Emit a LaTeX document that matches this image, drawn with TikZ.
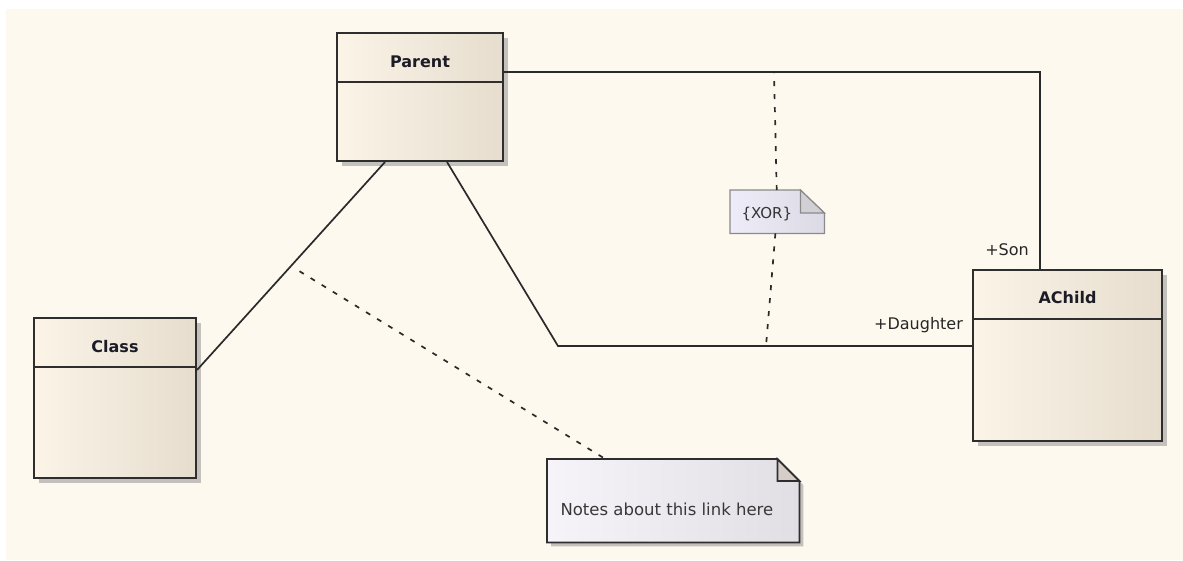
\documentclass[tikz,border=0pt]{standalone}
\usepackage{fontspec}
\setmainfont{DejaVu Sans}
\usepackage{xcolor}
\usetikzlibrary{calc,shadows}

\definecolor{bgcream}{HTML}{FEF9EF}
\definecolor{boxleft}{HTML}{FBF4E7}
\definecolor{boxright}{HTML}{E6DDCE}
\definecolor{boxline}{HTML}{2E2E2E}
\definecolor{shadowgray}{HTML}{C4C1BC}
\definecolor{linecol}{HTML}{2A2A2A}
\definecolor{noteleft}{HTML}{F6F4F9}
\definecolor{noteright}{HTML}{E1DEE4}
\definecolor{notefold}{HTML}{D6CDC8}
\definecolor{xorleft}{HTML}{EDECF8}
\definecolor{xorright}{HTML}{DCDAE4}
\definecolor{xorline}{HTML}{8A8A8A}
\definecolor{xorfold}{HTML}{D2D0D5}
\definecolor{titletext}{HTML}{1C1C26}

\begin{document}
\begin{tikzpicture}[x=1pt, y=-1pt, font=\fontsize{16}{19}\selectfont,
  classbox/.style={draw=boxline, line width=2pt, left color=boxleft, right color=boxright,
    anchor=north west, inner sep=0pt,
    drop shadow={shadow xshift=5pt, shadow yshift=-5pt, fill=shadowgray, opacity=1}},
  sep/.style={draw=boxline, line width=2pt},
  title/.style={anchor=base, font=\fontsize{16}{19}\selectfont\bfseries, text=titletext},
  note/.style={anchor=north west, inner sep=0pt},
  assoc/.style={draw=linecol, line width=1.7pt},
  notelink/.style={draw=linecol, line width=1.7pt, dash pattern=on 5pt off 8pt},
  role/.style={anchor=base east, font=\fontsize{16}{19}\selectfont, text=black!85}]

\useasboundingbox (0,0) rectangle (1183,560);
\path[fill=bgcream] (6,9) rectangle (1183,560);

% classes
\node (parent) [classbox, minimum width=166pt, minimum height=128pt] at (336,32) {};
\node (parentname) [title] at ($(parent.north)+(0,35)$) {Parent};
\draw[sep] ($(parent.north west)+(0,50)$) -- ($(parent.north east)+(0,50)$);

\node (cls) [classbox, minimum width=162pt, minimum height=160pt] at (33,317) {};
\node (clsname) [title] at ($(cls.north)+(0,35)$) {Class};
\draw[sep] ($(cls.north west)+(0,50)$) -- ($(cls.north east)+(0,50)$);

\node (achild) [classbox, minimum width=189pt, minimum height=171pt] at (972,269) {};
\node (achildname) [title] at ($(achild.north)+(0,34)$) {AChild};
\draw[sep] ($(achild.north west)+(0,50)$) -- ($(achild.north east)+(0,50)$);

% notes
\node (xor) [note, minimum width=94pt, minimum height=43pt] at (730,190) {};
\path[draw=xorline, line width=1.2pt, left color=xorleft, right color=xorright]
  (xor.north west) -- ($(xor.north east)+(-24,0)$) -- ($(xor.north east)+(0,23)$)
  -- (xor.south east) -- (xor.south west) -- cycle;
\filldraw[draw=xorline, fill=xorfold, line width=1.2pt]
  ($(xor.north east)+(-24,0)$) -- ++(0,23) -- ++(24,0) -- cycle;
\node (xortext) [anchor=base west, font=\fontsize{15}{18}\selectfont, text=black!80]
  at ($(xor.north west)+(8,28)$) {\{XOR\}};

\node (notes) [note, minimum width=252pt, minimum height=83pt] at (547,459) {};
\path[draw=boxline, line width=1.8pt, left color=noteleft, right color=noteright,
  drop shadow={shadow xshift=4pt, shadow yshift=-4pt, fill=shadowgray, opacity=1}]
  (notes.north west) -- ($(notes.north east)+(-22,0)$) -- ($(notes.north east)+(0,22)$)
  -- (notes.south east) -- (notes.south west) -- cycle;
\filldraw[draw=boxline, fill=notefold, line width=1.8pt]
  ($(notes.north east)+(-22,0)$) -- ++(0,22) -- ++(22,0) -- cycle;
\node (notestext) [anchor=base west, font=\fontsize{16.5}{19}\selectfont, text=black!78]
  at ($(notes.north west)+(10,56)$) {Notes about this link here};

% associations
\coordinate (dbend) at (558,346);
\draw[assoc] ($(parent.south west)+(49,0)$) -- coordinate[pos=0.5] (pcmid) ($(cls.north east)+(0,53)$);
\draw[assoc] ($(parent.south west)+(111,0)$) -- (dbend) -- ($(achild.north west)+(0,77)$)
  node[role, xshift=-5pt, yshift=17pt] {+Daughter};
\draw[assoc] ($(parent.north east)+(0,40)$) -| ($(achild.north west)+(68,0)$)
  node[role, xshift=-7pt, yshift=14pt] {+Son};

% note links
\coordinate (xtop) at (774,72);
\coordinate (xbot) at (766,346);
\draw[notelink] (xor) -- (xtop);
\draw[notelink] (xor) -- (xbot);
\draw[notelink, shorten <=10pt] (pcmid) -- (notes);

\end{tikzpicture}
\end{document}
